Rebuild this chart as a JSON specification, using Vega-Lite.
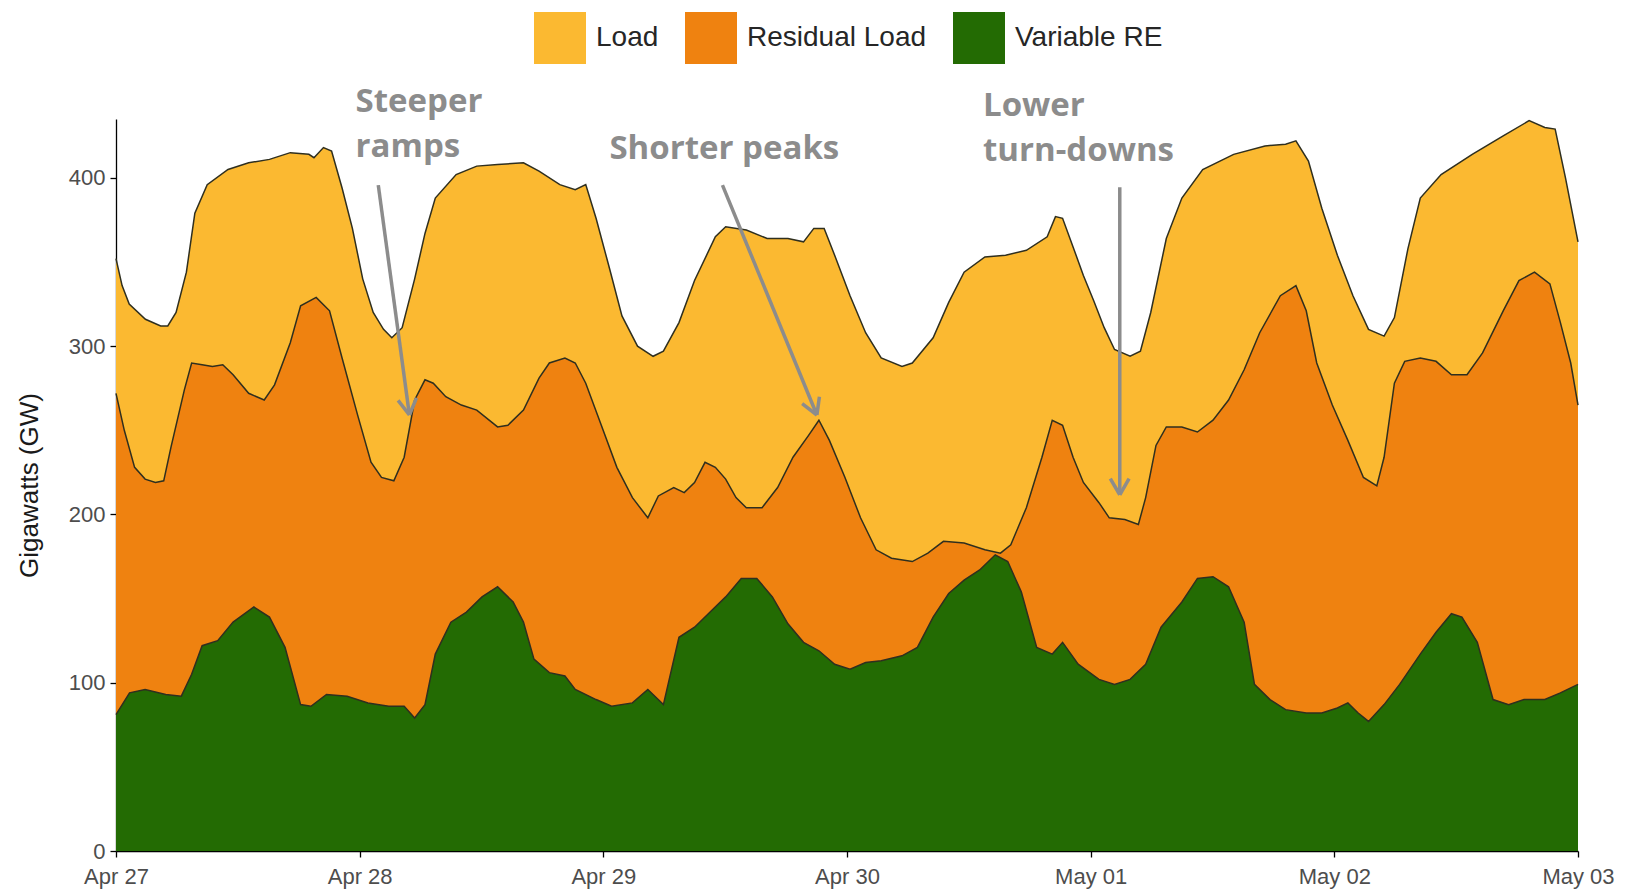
{
  "$schema": "https://vega.github.io/schema/vega-lite/v6.json",
  "width": 1462,
  "height": 732,
  "autosize": {"type": "none"},
  "padding": {"left": 116, "top": 119, "right": 48, "bottom": 42},
  "background": "white",
  "config": {
    "view": {"stroke": null},
    "font": "Liberation Sans",
    "axis": {"grid": false, "domainColor": "#000000", "domainWidth": 1.3, "tickColor": "#000000", "tickWidth": 1.3, "tickSize": 6, "labelColor": "#4D4D4D", "labelFontSize": 22, "labelFont": "Liberation Sans"}
  },
  "datasets": {
    "main": [
      {"time":"2030-04-27T00:00","series":"Load","gw":352},
      {"time":"2030-04-27T00:36","series":"Load","gw":336},
      {"time":"2030-04-27T01:18","series":"Load","gw":325},
      {"time":"2030-04-27T02:54","series":"Load","gw":316},
      {"time":"2030-04-27T04:24","series":"Load","gw":312},
      {"time":"2030-04-27T05:06","series":"Load","gw":312},
      {"time":"2030-04-27T05:55","series":"Load","gw":320},
      {"time":"2030-04-27T06:56","series":"Load","gw":344},
      {"time":"2030-04-27T07:46","series":"Load","gw":379},
      {"time":"2030-04-27T08:59","series":"Load","gw":396},
      {"time":"2030-04-27T11:02","series":"Load","gw":405},
      {"time":"2030-04-27T13:04","series":"Load","gw":409},
      {"time":"2030-04-27T15:07","series":"Load","gw":411},
      {"time":"2030-04-27T17:10","series":"Load","gw":415},
      {"time":"2030-04-27T19:00","series":"Load","gw":414},
      {"time":"2030-04-27T19:30","series":"Load","gw":412},
      {"time":"2030-04-27T20:26","series":"Load","gw":418},
      {"time":"2030-04-27T21:14","series":"Load","gw":416},
      {"time":"2030-04-27T22:16","series":"Load","gw":394},
      {"time":"2030-04-27T23:17","series":"Load","gw":370},
      {"time":"2030-04-28T00:18","series":"Load","gw":340},
      {"time":"2030-04-28T01:20","series":"Load","gw":320},
      {"time":"2030-04-28T02:21","series":"Load","gw":310},
      {"time":"2030-04-28T03:10","series":"Load","gw":305},
      {"time":"2030-04-28T04:11","series":"Load","gw":311},
      {"time":"2030-04-28T05:25","series":"Load","gw":340},
      {"time":"2030-04-28T06:26","series":"Load","gw":367},
      {"time":"2030-04-28T07:27","series":"Load","gw":388},
      {"time":"2030-04-28T09:30","series":"Load","gw":402},
      {"time":"2030-04-28T11:32","series":"Load","gw":407},
      {"time":"2030-04-28T13:35","series":"Load","gw":408},
      {"time":"2030-04-28T16:08","series":"Load","gw":409},
      {"time":"2030-04-28T17:40","series":"Load","gw":404},
      {"time":"2030-04-28T19:43","series":"Load","gw":396},
      {"time":"2030-04-28T21:14","series":"Load","gw":393},
      {"time":"2030-04-28T22:16","series":"Load","gw":396},
      {"time":"2030-04-28T23:17","series":"Load","gw":376},
      {"time":"2030-04-29T00:37","series":"Load","gw":346},
      {"time":"2030-04-29T01:50","series":"Load","gw":318},
      {"time":"2030-04-29T03:22","series":"Load","gw":300},
      {"time":"2030-04-29T04:54","series":"Load","gw":294},
      {"time":"2030-04-29T05:55","series":"Load","gw":297},
      {"time":"2030-04-29T07:27","series":"Load","gw":314},
      {"time":"2030-04-29T08:59","series":"Load","gw":339},
      {"time":"2030-04-29T11:02","series":"Load","gw":365},
      {"time":"2030-04-29T12:03","series":"Load","gw":371},
      {"time":"2030-04-29T14:05","series":"Load","gw":369},
      {"time":"2030-04-29T16:08","series":"Load","gw":364},
      {"time":"2030-04-29T18:11","series":"Load","gw":364},
      {"time":"2030-04-29T19:43","series":"Load","gw":362},
      {"time":"2030-04-29T20:44","series":"Load","gw":370},
      {"time":"2030-04-29T21:45","series":"Load","gw":370},
      {"time":"2030-04-29T22:47","series":"Load","gw":354},
      {"time":"2030-04-30T00:18","series":"Load","gw":330},
      {"time":"2030-04-30T01:50","series":"Load","gw":308},
      {"time":"2030-04-30T03:22","series":"Load","gw":293},
      {"time":"2030-04-30T05:25","series":"Load","gw":288},
      {"time":"2030-04-30T06:26","series":"Load","gw":290},
      {"time":"2030-04-30T08:29","series":"Load","gw":305},
      {"time":"2030-04-30T10:01","series":"Load","gw":326},
      {"time":"2030-04-30T11:32","series":"Load","gw":344},
      {"time":"2030-04-30T13:35","series":"Load","gw":353},
      {"time":"2030-04-30T15:37","series":"Load","gw":354},
      {"time":"2030-04-30T17:40","series":"Load","gw":357},
      {"time":"2030-04-30T19:43","series":"Load","gw":365},
      {"time":"2030-04-30T20:32","series":"Load","gw":377},
      {"time":"2030-04-30T21:14","series":"Load","gw":376},
      {"time":"2030-04-30T22:16","series":"Load","gw":359},
      {"time":"2030-04-30T23:17","series":"Load","gw":342},
      {"time":"2030-05-01T00:18","series":"Load","gw":327},
      {"time":"2030-05-01T01:20","series":"Load","gw":311},
      {"time":"2030-05-01T02:21","series":"Load","gw":298},
      {"time":"2030-05-01T03:53","series":"Load","gw":294},
      {"time":"2030-05-01T04:54","series":"Load","gw":297},
      {"time":"2030-05-01T05:55","series":"Load","gw":320},
      {"time":"2030-05-01T07:27","series":"Load","gw":364},
      {"time":"2030-05-01T08:59","series":"Load","gw":388},
      {"time":"2030-05-01T11:02","series":"Load","gw":405},
      {"time":"2030-05-01T14:05","series":"Load","gw":414},
      {"time":"2030-05-01T17:10","series":"Load","gw":419},
      {"time":"2030-05-01T19:12","series":"Load","gw":420},
      {"time":"2030-05-01T20:13","series":"Load","gw":422},
      {"time":"2030-05-01T21:27","series":"Load","gw":410},
      {"time":"2030-05-01T22:46","series":"Load","gw":382},
      {"time":"2030-05-02T00:18","series":"Load","gw":354},
      {"time":"2030-05-02T01:50","series":"Load","gw":330},
      {"time":"2030-05-02T03:22","series":"Load","gw":310},
      {"time":"2030-05-02T04:54","series":"Load","gw":306},
      {"time":"2030-05-02T05:55","series":"Load","gw":317},
      {"time":"2030-05-02T07:15","series":"Load","gw":358},
      {"time":"2030-05-02T08:28","series":"Load","gw":388},
      {"time":"2030-05-02T10:31","series":"Load","gw":402},
      {"time":"2030-05-02T13:35","series":"Load","gw":414},
      {"time":"2030-05-02T16:38","series":"Load","gw":425},
      {"time":"2030-05-02T19:11","series":"Load","gw":434},
      {"time":"2030-05-02T20:44","series":"Load","gw":430},
      {"time":"2030-05-02T21:45","series":"Load","gw":429},
      {"time":"2030-05-02T22:46","series":"Load","gw":400},
      {"time":"2030-05-03T00:00","series":"Load","gw":362},

      {"time":"2030-04-27T00:00","series":"Residual Load","gw":272},
      {"time":"2030-04-27T00:49","series":"Residual Load","gw":250},
      {"time":"2030-04-27T01:50","series":"Residual Load","gw":228},
      {"time":"2030-04-27T02:52","series":"Residual Load","gw":221},
      {"time":"2030-04-27T03:53","series":"Residual Load","gw":219},
      {"time":"2030-04-27T04:42","series":"Residual Load","gw":220},
      {"time":"2030-04-27T05:25","series":"Residual Load","gw":240},
      {"time":"2030-04-27T06:44","series":"Residual Load","gw":274},
      {"time":"2030-04-27T07:27","series":"Residual Load","gw":290},
      {"time":"2030-04-27T08:29","series":"Residual Load","gw":289},
      {"time":"2030-04-27T09:30","series":"Residual Load","gw":288},
      {"time":"2030-04-27T10:31","series":"Residual Load","gw":289},
      {"time":"2030-04-27T11:32","series":"Residual Load","gw":283},
      {"time":"2030-04-27T13:04","series":"Residual Load","gw":272},
      {"time":"2030-04-27T14:36","series":"Residual Load","gw":268},
      {"time":"2030-04-27T15:37","series":"Residual Load","gw":277},
      {"time":"2030-04-27T17:10","series":"Residual Load","gw":302},
      {"time":"2030-04-27T18:11","series":"Residual Load","gw":324},
      {"time":"2030-04-27T19:43","series":"Residual Load","gw":329},
      {"time":"2030-04-27T21:02","series":"Residual Load","gw":321},
      {"time":"2030-04-27T22:16","series":"Residual Load","gw":293},
      {"time":"2030-04-27T23:48","series":"Residual Load","gw":259},
      {"time":"2030-04-28T01:07","series":"Residual Load","gw":231},
      {"time":"2030-04-28T02:09","series":"Residual Load","gw":222},
      {"time":"2030-04-28T03:22","series":"Residual Load","gw":220},
      {"time":"2030-04-28T04:23","series":"Residual Load","gw":234},
      {"time":"2030-04-28T05:25","series":"Residual Load","gw":268},
      {"time":"2030-04-28T06:26","series":"Residual Load","gw":280},
      {"time":"2030-04-28T07:15","series":"Residual Load","gw":278},
      {"time":"2030-04-28T08:29","series":"Residual Load","gw":270},
      {"time":"2030-04-28T10:01","series":"Residual Load","gw":265},
      {"time":"2030-04-28T11:32","series":"Residual Load","gw":262},
      {"time":"2030-04-28T13:35","series":"Residual Load","gw":252},
      {"time":"2030-04-28T14:36","series":"Residual Load","gw":253},
      {"time":"2030-04-28T16:08","series":"Residual Load","gw":262},
      {"time":"2030-04-28T17:40","series":"Residual Load","gw":281},
      {"time":"2030-04-28T18:41","series":"Residual Load","gw":290},
      {"time":"2030-04-28T20:13","series":"Residual Load","gw":293},
      {"time":"2030-04-28T21:14","series":"Residual Load","gw":290},
      {"time":"2030-04-28T22:16","series":"Residual Load","gw":278},
      {"time":"2030-04-28T23:48","series":"Residual Load","gw":253},
      {"time":"2030-04-29T01:20","series":"Residual Load","gw":228},
      {"time":"2030-04-29T02:52","series":"Residual Load","gw":210},
      {"time":"2030-04-29T04:23","series":"Residual Load","gw":198},
      {"time":"2030-04-29T05:25","series":"Residual Load","gw":211},
      {"time":"2030-04-29T06:56","series":"Residual Load","gw":216},
      {"time":"2030-04-29T07:58","series":"Residual Load","gw":213},
      {"time":"2030-04-29T08:59","series":"Residual Load","gw":219},
      {"time":"2030-04-29T10:01","series":"Residual Load","gw":231},
      {"time":"2030-04-29T11:02","series":"Residual Load","gw":228},
      {"time":"2030-04-29T12:03","series":"Residual Load","gw":221},
      {"time":"2030-04-29T13:04","series":"Residual Load","gw":210},
      {"time":"2030-04-29T14:05","series":"Residual Load","gw":204},
      {"time":"2030-04-29T15:38","series":"Residual Load","gw":204},
      {"time":"2030-04-29T17:10","series":"Residual Load","gw":216},
      {"time":"2030-04-29T18:41","series":"Residual Load","gw":234},
      {"time":"2030-04-29T20:13","series":"Residual Load","gw":247},
      {"time":"2030-04-29T21:14","series":"Residual Load","gw":256},
      {"time":"2030-04-29T22:16","series":"Residual Load","gw":244},
      {"time":"2030-04-29T23:48","series":"Residual Load","gw":222},
      {"time":"2030-04-30T01:20","series":"Residual Load","gw":198},
      {"time":"2030-04-30T02:52","series":"Residual Load","gw":179},
      {"time":"2030-04-30T04:23","series":"Residual Load","gw":174},
      {"time":"2030-04-30T06:26","series":"Residual Load","gw":172},
      {"time":"2030-04-30T07:58","series":"Residual Load","gw":177},
      {"time":"2030-04-30T09:30","series":"Residual Load","gw":184},
      {"time":"2030-04-30T11:32","series":"Residual Load","gw":183},
      {"time":"2030-04-30T13:35","series":"Residual Load","gw":179},
      {"time":"2030-04-30T15:07","series":"Residual Load","gw":177},
      {"time":"2030-04-30T16:08","series":"Residual Load","gw":182},
      {"time":"2030-04-30T17:40","series":"Residual Load","gw":204},
      {"time":"2030-04-30T19:12","series":"Residual Load","gw":234},
      {"time":"2030-04-30T20:13","series":"Residual Load","gw":256},
      {"time":"2030-04-30T21:14","series":"Residual Load","gw":253},
      {"time":"2030-04-30T22:16","series":"Residual Load","gw":234},
      {"time":"2030-04-30T23:17","series":"Residual Load","gw":219},
      {"time":"2030-05-01T00:49","series":"Residual Load","gw":207},
      {"time":"2030-05-01T01:50","series":"Residual Load","gw":198},
      {"time":"2030-05-01T03:22","series":"Residual Load","gw":197},
      {"time":"2030-05-01T04:42","series":"Residual Load","gw":194},
      {"time":"2030-05-01T05:25","series":"Residual Load","gw":210},
      {"time":"2030-05-01T06:26","series":"Residual Load","gw":241},
      {"time":"2030-05-01T07:27","series":"Residual Load","gw":252},
      {"time":"2030-05-01T08:59","series":"Residual Load","gw":252},
      {"time":"2030-05-01T10:31","series":"Residual Load","gw":249},
      {"time":"2030-05-01T12:03","series":"Residual Load","gw":256},
      {"time":"2030-05-01T13:35","series":"Residual Load","gw":268},
      {"time":"2030-05-01T15:07","series":"Residual Load","gw":286},
      {"time":"2030-05-01T16:39","series":"Residual Load","gw":308},
      {"time":"2030-05-01T18:41","series":"Residual Load","gw":330},
      {"time":"2030-05-01T20:13","series":"Residual Load","gw":336},
      {"time":"2030-05-01T21:14","series":"Residual Load","gw":321},
      {"time":"2030-05-01T22:16","series":"Residual Load","gw":290},
      {"time":"2030-05-01T23:48","series":"Residual Load","gw":265},
      {"time":"2030-05-02T01:20","series":"Residual Load","gw":244},
      {"time":"2030-05-02T02:52","series":"Residual Load","gw":222},
      {"time":"2030-05-02T04:11","series":"Residual Load","gw":217},
      {"time":"2030-05-02T04:54","series":"Residual Load","gw":234},
      {"time":"2030-05-02T05:55","series":"Residual Load","gw":278},
      {"time":"2030-05-02T06:56","series":"Residual Load","gw":291},
      {"time":"2030-05-02T08:28","series":"Residual Load","gw":293},
      {"time":"2030-05-02T10:01","series":"Residual Load","gw":291},
      {"time":"2030-05-02T11:32","series":"Residual Load","gw":283},
      {"time":"2030-05-02T13:04","series":"Residual Load","gw":283},
      {"time":"2030-05-02T14:36","series":"Residual Load","gw":296},
      {"time":"2030-05-02T16:38","series":"Residual Load","gw":321},
      {"time":"2030-05-02T18:11","series":"Residual Load","gw":339},
      {"time":"2030-05-02T19:43","series":"Residual Load","gw":344},
      {"time":"2030-05-02T21:14","series":"Residual Load","gw":337},
      {"time":"2030-05-02T22:16","series":"Residual Load","gw":314},
      {"time":"2030-05-02T23:17","series":"Residual Load","gw":290},
      {"time":"2030-05-03T00:00","series":"Residual Load","gw":265},

      {"time":"2030-04-27T00:00","series":"Variable RE","gw":81},
      {"time":"2030-04-27T01:20","series":"Variable RE","gw":94},
      {"time":"2030-04-27T02:52","series":"Variable RE","gw":96},
      {"time":"2030-04-27T04:54","series":"Variable RE","gw":93},
      {"time":"2030-04-27T06:26","series":"Variable RE","gw":92},
      {"time":"2030-04-27T07:27","series":"Variable RE","gw":105},
      {"time":"2030-04-27T08:29","series":"Variable RE","gw":122},
      {"time":"2030-04-27T10:01","series":"Variable RE","gw":125},
      {"time":"2030-04-27T11:32","series":"Variable RE","gw":136},
      {"time":"2030-04-27T13:35","series":"Variable RE","gw":145},
      {"time":"2030-04-27T15:07","series":"Variable RE","gw":139},
      {"time":"2030-04-27T16:39","series":"Variable RE","gw":121},
      {"time":"2030-04-27T18:11","series":"Variable RE","gw":87},
      {"time":"2030-04-27T19:12","series":"Variable RE","gw":86},
      {"time":"2030-04-27T20:44","series":"Variable RE","gw":93},
      {"time":"2030-04-27T22:46","series":"Variable RE","gw":92},
      {"time":"2030-04-28T00:49","series":"Variable RE","gw":88},
      {"time":"2030-04-28T02:52","series":"Variable RE","gw":86},
      {"time":"2030-04-28T04:23","series":"Variable RE","gw":86},
      {"time":"2030-04-28T05:25","series":"Variable RE","gw":79},
      {"time":"2030-04-28T06:26","series":"Variable RE","gw":87},
      {"time":"2030-04-28T07:27","series":"Variable RE","gw":117},
      {"time":"2030-04-28T08:59","series":"Variable RE","gw":136},
      {"time":"2030-04-28T10:31","series":"Variable RE","gw":142},
      {"time":"2030-04-28T12:03","series":"Variable RE","gw":151},
      {"time":"2030-04-28T13:35","series":"Variable RE","gw":157},
      {"time":"2030-04-28T15:07","series":"Variable RE","gw":148},
      {"time":"2030-04-28T16:08","series":"Variable RE","gw":136},
      {"time":"2030-04-28T17:10","series":"Variable RE","gw":114},
      {"time":"2030-04-28T18:41","series":"Variable RE","gw":106},
      {"time":"2030-04-28T20:13","series":"Variable RE","gw":104},
      {"time":"2030-04-28T21:14","series":"Variable RE","gw":96},
      {"time":"2030-04-28T23:17","series":"Variable RE","gw":90},
      {"time":"2030-04-29T00:49","series":"Variable RE","gw":86},
      {"time":"2030-04-29T02:52","series":"Variable RE","gw":88},
      {"time":"2030-04-29T04:23","series":"Variable RE","gw":96},
      {"time":"2030-04-29T05:55","series":"Variable RE","gw":87},
      {"time":"2030-04-29T07:27","series":"Variable RE","gw":127},
      {"time":"2030-04-29T08:59","series":"Variable RE","gw":133},
      {"time":"2030-04-29T10:31","series":"Variable RE","gw":142},
      {"time":"2030-04-29T12:03","series":"Variable RE","gw":151},
      {"time":"2030-04-29T13:35","series":"Variable RE","gw":162},
      {"time":"2030-04-29T15:07","series":"Variable RE","gw":162},
      {"time":"2030-04-29T16:39","series":"Variable RE","gw":151},
      {"time":"2030-04-29T18:11","series":"Variable RE","gw":135},
      {"time":"2030-04-29T19:43","series":"Variable RE","gw":124},
      {"time":"2030-04-29T21:14","series":"Variable RE","gw":119},
      {"time":"2030-04-29T22:47","series":"Variable RE","gw":111},
      {"time":"2030-04-30T00:18","series":"Variable RE","gw":108},
      {"time":"2030-04-30T01:50","series":"Variable RE","gw":112},
      {"time":"2030-04-30T03:22","series":"Variable RE","gw":113},
      {"time":"2030-04-30T05:25","series":"Variable RE","gw":116},
      {"time":"2030-04-30T06:56","series":"Variable RE","gw":121},
      {"time":"2030-04-30T08:29","series":"Variable RE","gw":139},
      {"time":"2030-04-30T10:01","series":"Variable RE","gw":153},
      {"time":"2030-04-30T11:32","series":"Variable RE","gw":161},
      {"time":"2030-04-30T13:04","series":"Variable RE","gw":167},
      {"time":"2030-04-30T14:36","series":"Variable RE","gw":176},
      {"time":"2030-04-30T15:50","series":"Variable RE","gw":172},
      {"time":"2030-04-30T17:10","series":"Variable RE","gw":154},
      {"time":"2030-04-30T18:41","series":"Variable RE","gw":121},
      {"time":"2030-04-30T20:13","series":"Variable RE","gw":117},
      {"time":"2030-04-30T21:14","series":"Variable RE","gw":124},
      {"time":"2030-04-30T22:46","series":"Variable RE","gw":111},
      {"time":"2030-05-01T00:49","series":"Variable RE","gw":102},
      {"time":"2030-05-01T02:21","series":"Variable RE","gw":99},
      {"time":"2030-05-01T03:53","series":"Variable RE","gw":102},
      {"time":"2030-05-01T05:25","series":"Variable RE","gw":111},
      {"time":"2030-05-01T06:56","series":"Variable RE","gw":133},
      {"time":"2030-05-01T08:59","series":"Variable RE","gw":148},
      {"time":"2030-05-01T10:31","series":"Variable RE","gw":162},
      {"time":"2030-05-01T12:03","series":"Variable RE","gw":163},
      {"time":"2030-05-01T13:35","series":"Variable RE","gw":157},
      {"time":"2030-05-01T15:07","series":"Variable RE","gw":136},
      {"time":"2030-05-01T16:08","series":"Variable RE","gw":99},
      {"time":"2030-05-01T17:40","series":"Variable RE","gw":90},
      {"time":"2030-05-01T19:12","series":"Variable RE","gw":84},
      {"time":"2030-05-01T21:14","series":"Variable RE","gw":82},
      {"time":"2030-05-01T22:46","series":"Variable RE","gw":82},
      {"time":"2030-05-02T00:18","series":"Variable RE","gw":85},
      {"time":"2030-05-02T01:20","series":"Variable RE","gw":88},
      {"time":"2030-05-02T02:21","series":"Variable RE","gw":82},
      {"time":"2030-05-02T03:22","series":"Variable RE","gw":77},
      {"time":"2030-05-02T04:54","series":"Variable RE","gw":87},
      {"time":"2030-05-02T06:26","series":"Variable RE","gw":99},
      {"time":"2030-05-02T08:28","series":"Variable RE","gw":117},
      {"time":"2030-05-02T10:01","series":"Variable RE","gw":130},
      {"time":"2030-05-02T11:32","series":"Variable RE","gw":141},
      {"time":"2030-05-02T12:34","series":"Variable RE","gw":139},
      {"time":"2030-05-02T14:05","series":"Variable RE","gw":124},
      {"time":"2030-05-02T15:38","series":"Variable RE","gw":90},
      {"time":"2030-05-02T17:10","series":"Variable RE","gw":87},
      {"time":"2030-05-02T18:41","series":"Variable RE","gw":90},
      {"time":"2030-05-02T20:44","series":"Variable RE","gw":90},
      {"time":"2030-05-02T22:16","series":"Variable RE","gw":94},
      {"time":"2030-05-03T00:00","series":"Variable RE","gw":99}
    ],
    "notes": [
      {"time":"2030-04-27T23:36","gw":445,"label":"Steeper"},
      {"time":"2030-04-27T23:36","gw":418.5,"label":"ramps"},
      {"time":"2030-04-29T00:36","gw":417,"label":"Shorter peaks"},
      {"time":"2030-04-30T13:24","gw":443,"label":"Lower"},
      {"time":"2030-04-30T13:24","gw":416,"label":"turn-downs"}
    ],
    "arrows": [
      {"time":"2030-04-28T01:50","gw":395.7,"time2":"2030-04-28T04:54","gw2":259.1},
      {"time":"2030-04-28T05:36","gw":269.3,"time2":"2030-04-28T04:54","gw2":259.1},
      {"time":"2030-04-28T03:47","gw":267.8,"time2":"2030-04-28T04:54","gw2":259.1},
      {"time":"2030-04-29T11:44","gw":395.7,"time2":"2030-04-29T21:02","gw2":259.1},
      {"time":"2030-04-29T21:17","gw":270.0,"time2":"2030-04-29T21:02","gw2":259.1},
      {"time":"2030-04-29T19:35","gw":265.8,"time2":"2030-04-29T21:02","gw2":259.1},
      {"time":"2030-05-01T02:52","gw":394.5,"time2":"2030-05-01T02:52","gw2":211.7},
      {"time":"2030-05-01T03:47","gw":221.3,"time2":"2030-05-01T02:52","gw2":211.7},
      {"time":"2030-05-01T01:56","gw":221.3,"time2":"2030-05-01T02:52","gw2":211.7}
    ]
  },
  "data": {"name": "main"},
  "encoding": {
    "x": {
      "field": "time", "type": "temporal",
      "scale": {"domain": [{"year": 2030, "month": 4, "date": 27}, {"year": 2030, "month": 5, "date": 3}], "nice": false},
      "axis": {"title": null, "format": "%b %d", "tickCount": {"interval": "day", "step": 1}, "labelPadding": 9, "labelOverlap": false, "labelFlush": false}
    },
    "y": {
      "field": "gw", "type": "quantitative",
      "scale": {"domain": [0, 435], "nice": false},
      "axis": {"title": "Gigawatts (GW)", "values": [0, 100, 200, 300, 400], "titleFontSize": 26, "titleFontWeight": "normal", "titleColor": "#1A1A1A", "titlePadding": 26, "labelPadding": 5}
    }
  },
  "layer": [
    {
      "transform": [{"filter": "datum.series === 'Load'"}],
      "mark": {"type": "area", "opacity": 1},
      "encoding": {
        "color": {"field": "series", "type": "nominal",
          "scale": {"domain": ["Load", "Residual Load", "Variable RE"], "range": ["#FBB931", "#EF8210", "#236B03"]},
          "legend": {"title": null, "orient": "none", "direction": "horizontal", "legendX": 418, "legendY": -107, "symbolType": "square", "symbolSize": 2704, "symbolStrokeWidth": 0, "symbolOpacity": 1, "labelFontSize": 28, "labelColor": "#262626", "labelOffset": 10, "labelLimit": 0, "columnPadding": 26, "padding": 0}}
      }
    },
    {
      "transform": [{"filter": "datum.series === 'Residual Load'"}],
      "mark": {"type": "area", "opacity": 1},
      "encoding": {"color": {"field": "series", "type": "nominal"}}
    },
    {
      "transform": [{"filter": "datum.series === 'Variable RE'"}],
      "mark": {"type": "area", "opacity": 1},
      "encoding": {"color": {"field": "series", "type": "nominal"}}
    },
    {
      "mark": {"type": "line", "stroke": "#2F2F1F", "strokeWidth": 1.5},
      "encoding": {"detail": {"field": "series", "type": "nominal"}}
    },
    {
      "data": {"name": "arrows", "format": {"parse": {"time": "date", "time2": "date"}}},
      "mark": {"type": "rule", "stroke": "#8C8C8C", "strokeWidth": 3.5, "clip": false},
      "encoding": {
        "x2": {"field": "time2"},
        "y2": {"field": "gw2"}
      }
    },
    {
      "data": {"name": "notes"},
      "mark": {"type": "text", "align": "left", "baseline": "middle", "font": "Open Sans", "fontWeight": "bold", "fontSize": 33, "fill": "#8C8C8C", "clip": false},
      "encoding": {"text": {"field": "label", "type": "nominal"}}
    }
  ]
}
